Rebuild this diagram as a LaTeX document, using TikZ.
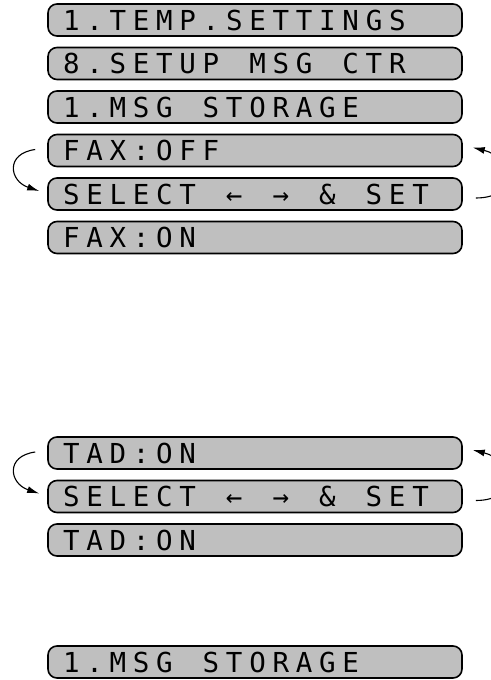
\documentclass[tikz,border=0pt]{standalone}
\usepackage{fontspec}
\usetikzlibrary{arrows.meta, positioning}
\newfontfamily\lcdfont[LetterSpace=24.5]{DejaVu Sans Mono}
\newcommand\lcdtype{\lcdfont\fontsize{27.5}{27.5}\selectfont}
\newcommand\lcdgap{\hspace*{30pt}}

\begin{document}
\begin{tikzpicture}[
        x=1pt, y=-1pt,
        lcdbox/.style={rectangle, rounded corners=9pt, draw=black, line width=1.6pt,
            fill=black!25, minimum height=32pt, text width=384pt, align=left,
            inner xsep=15pt, inner ysep=0pt, font=\lcdtype},
        cycle/.style={line width=1.1pt, -{Latex[length=12pt, width=7pt]}}
    ]
    \useasboundingbox (0,0) rectangle (490,680);

    % first menu steps
    \node[lcdbox] (temp) at (255,20) {1.TEMP.SETTINGS};
    \node[lcdbox] (setup) at (255,63.5) {8.SETUP\lcdgap MSG\lcdgap CTR};
    \node[lcdbox] (store1) at (255,107) {1.MSG\lcdgap STORAGE};
    \node[lcdbox] (faxoff) at (255,150.5) {FAX:OFF};
    \node[lcdbox] (selfax) at (255,194) {SELECT\lcdgap ←\lcdgap →\lcdgap \&\lcdgap SET};
    \node[lcdbox] (faxon) at (255,237.5) {FAX:ON};

    % second group
    \node[lcdbox] (tadon) at (255,453) {TAD:ON};
    \node[lcdbox] (seltad) at (255,496.5) {SELECT\lcdgap ←\lcdgap →\lcdgap \&\lcdgap SET};
    \node[lcdbox] (tadset) at (255,540) {TAD:ON};

    \node[lcdbox] (store2) at (255,662) {1.MSG\lcdgap STORAGE};

    % toggle arrows
    \draw[cycle] ([xshift=-12pt, yshift=1pt]faxoff.west) .. controls +(-30,4) and +(-30,-10) .. ([xshift=-8pt, yshift=3pt]selfax.west);
    \draw[cycle] ([xshift=13pt, yshift=-4pt]selfax.east) .. controls +(44,0) and +(40,10) .. ([xshift=10pt, yshift=3pt]faxoff.east);
    \draw[cycle] ([xshift=-12pt, yshift=1pt]tadon.west) .. controls +(-30,4) and +(-30,-10) .. ([xshift=-8pt, yshift=3pt]seltad.west);
    \draw[cycle] ([xshift=13pt, yshift=-4pt]seltad.east) .. controls +(44,0) and +(40,10) .. ([xshift=10pt, yshift=3pt]tadon.east);
\end{tikzpicture}
\end{document}
